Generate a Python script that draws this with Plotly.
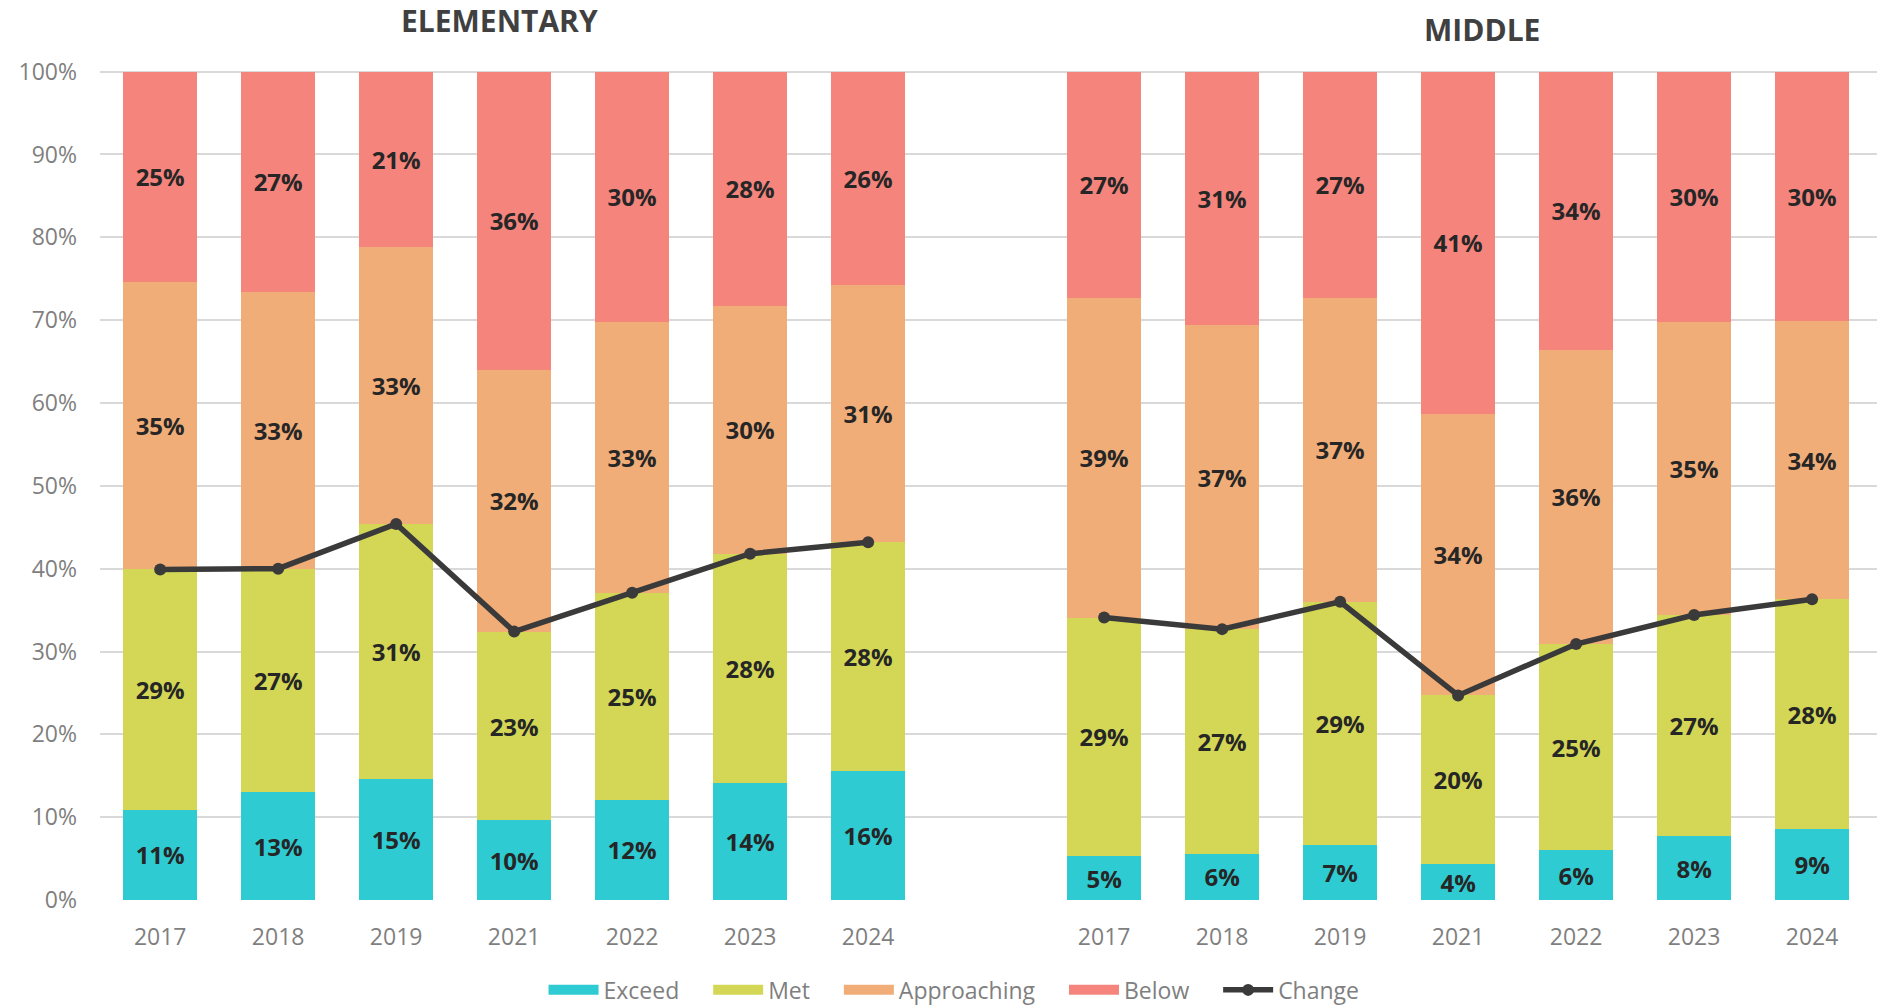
import plotly.graph_objects as go

# ---- data (percent) ----
years = ["2017", "2018", "2019", "2021", "2022", "2023", "2024"]
group_titles = ["ELEMENTARY", "MIDDLE"]

elem_exceed = [10.9, 13.0, 14.6, 9.6, 12.1, 14.1, 15.6]
elem_met = [29.0, 27.0, 30.8, 22.8, 25.0, 27.7, 27.6]
elem_approaching = [34.7, 33.4, 33.4, 31.6, 32.7, 29.9, 31.0]
elem_below = [25.4, 26.6, 21.2, 36.0, 30.2, 28.3, 25.8]
elem_change = [39.9, 40.0, 45.4, 32.4, 37.1, 41.8, 43.2]

mid_exceed = [5.3, 5.6, 6.6, 4.3, 6.0, 7.7, 8.6]
mid_met = [28.8, 27.1, 29.4, 20.4, 24.9, 26.7, 27.7]
mid_approaching = [38.6, 36.7, 36.7, 34.0, 35.55, 35.4, 33.6]
mid_below = [27.3, 30.6, 27.3, 41.3, 33.55, 30.2, 30.1]
mid_change = [34.1, 32.7, 36.0, 24.7, 30.9, 34.4, 36.3]

series_names = ["Exceed", "Met", "Approaching", "Below"]
series_colors = ["#2ECBD2", "#D3D755", "#F1AD78", "#F4847C"]
line_color = "#3A3A3A"

# ---- positions: two groups of categories with one empty slot between ----
n = len(years)
elem_x = list(range(n))
mid_x = [i + n + 1 for i in range(n)]
x_all = elem_x + mid_x
tick_text = years + years

elem_series = [elem_exceed, elem_met, elem_approaching, elem_below]
mid_series = [mid_exceed, mid_met, mid_approaching, mid_below]

FONT = "Open Sans, Noto Sans, sans-serif"
PAD = "\u00a0" * 4  # extra spacing after legend labels

fig = go.Figure()

# legend entries drawn as wide swatches (legend-only, no data)
for name, color in zip(series_names, series_colors):
    fig.add_trace(go.Scatter(
        name=name + PAD,
        x=[None], y=[None],
        mode="lines",
        line=dict(color=color, width=14),
        legendgroup=name,
        showlegend=True,
        hoverinfo="skip",
    ))

for name, color, e_vals, m_vals in zip(series_names, series_colors, elem_series, mid_series):
    fig.add_trace(go.Bar(
        name=name,
        x=x_all,
        y=e_vals + m_vals,
        marker=dict(color=color, line=dict(width=0)),
        width=0.625,
        texttemplate="%{y:.0f}%",
        textposition="inside",
        insidetextanchor="middle",
        textangle=0,
        constraintext="none",
        textfont=dict(family=FONT, size=24, color="#262626", weight="bold"),
        legendgroup=name,
        showlegend=False,
        hoverinfo="skip",
    ))

fig.add_trace(go.Scatter(
    name="Change",
    x=elem_x + [n] + mid_x,
    y=elem_change + [None] + mid_change,
    mode="lines+markers",
    line=dict(color=line_color, width=5.5),
    marker=dict(color=line_color, size=12, symbol="circle"),
    connectgaps=False,
    hoverinfo="skip",
))

fig.update_layout(
    width=1878,
    height=1005,
    barmode="stack",
    bargap=0.375,
    plot_bgcolor="white",
    paper_bgcolor="white",
    margin=dict(l=100, r=1, t=70, b=105),
    font=dict(family=FONT, color="#7F7F7F"),
    showlegend=True,
    legend=dict(
        orientation="h",
        xref="container",
        yref="container",
        x=0.508,
        xanchor="center",
        y=0.015,
        yanchor="middle",
        font=dict(family=FONT, size=23, color="#7F7F7F"),
        traceorder="normal",
        itemwidth=50,
    ),
    xaxis=dict(
        range=[-0.51, 2 * n + 0.55],
        tickmode="array",
        tickvals=x_all,
        ticktext=tick_text,
        showgrid=False,
        zeroline=False,
        showline=False,
        ticks="",
        tickfont=dict(family=FONT, size=23, color="#7F7F7F"),
        ticklabelstandoff=21,
    ),
    yaxis=dict(
        range=[0, 100.2],
        tickmode="linear",
        tick0=0,
        dtick=10,
        ticksuffix="%",
        showgrid=True,
        gridcolor="#D9D9D9",
        gridwidth=1.5,
        zeroline=False,
        showline=False,
        ticks="",
        tickfont=dict(family=FONT, size=23, color="#7F7F7F"),
        ticklabelstandoff=22,
    ),
    annotations=[
        dict(text=group_titles[0], xref="paper", yref="paper", x=0.225, y=1.06,
             showarrow=False, xanchor="center", yanchor="middle",
             font=dict(family=FONT, size=30, color="#404040", weight="bold")),
        dict(text=group_titles[1], xref="paper", yref="paper", x=0.7777, y=1.049,
             showarrow=False, xanchor="center", yanchor="middle",
             font=dict(family=FONT, size=30, color="#404040", weight="bold")),
    ],
)

fig.write_html(
    "out.html",
    config={"displayModeBar": False},
    post_script="document.body.style.margin='0';document.body.style.overflow='hidden';"
                "document.documentElement.style.overflow='hidden';",
)
